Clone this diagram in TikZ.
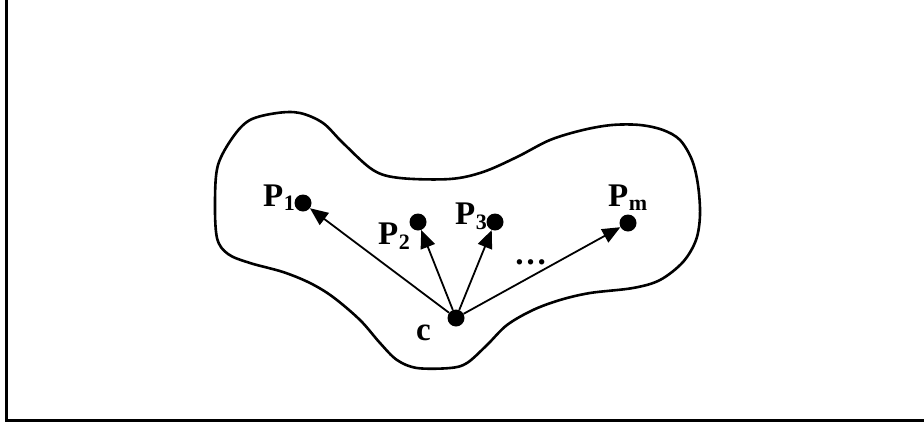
\documentclass[tikz,border=0pt]{standalone}
\usepackage{fontspec}
\setmainfont{Liberation Serif}
\usetikzlibrary{arrows.meta}
\tikzset{
  dot/.style={circle,fill=black,inner sep=0pt,minimum size=17pt},
  vec/.style={line width=1.8pt,-{Triangle[length=18pt,width=15pt]}},
  lbl/.style={inner sep=0pt,anchor=base west,font=\fontsize{33}{35}\selectfont\bfseries},
  sub/.style={inner sep=0pt,anchor=base west,font=\fontsize{22}{24}\selectfont\bfseries},
}
\begin{document}
\begin{tikzpicture}[x=1pt,y=-1pt]
\useasboundingbox (0,0) rectangle (924,426);
% open frame: left and bottom edges
\draw[line width=3pt] (6,-2) -- (6,420) -- (926,420);
% region outline
\draw[line width=2.6pt] plot[smooth cycle,tension=0.55] coordinates {
  (215,200) (218,165) (233,137) (250,120) (277,113) (300,113) (323,123)
  (343,143) (373,170) (400,178) (450,179) (483,172) (517,157) (550,140)
  (583,130) (612,125) (640,125) (663,130) (680,140) (692,160) (698,185)
  (700,215) (696,240) (683,262) (660,280) (633,288) (590,293) (560,300)
  (533,310) (507,325) (487,345) (467,363) (450,368) (417,368) (397,360)
  (380,343) (360,320) (333,297) (310,283) (283,272) (250,263) (228,254)
  (217,238)};
% points
\node[dot] (c) at (456,318) {};
\node[dot] (p1) at (303,203) {};
\node[dot] (p2) at (418,222) {};
\node[dot] (p3) at (495,222) {};
\node[dot] (pm) at (628,223) {};
% vectors from c
\draw[vec] (c) -- (p1);
\draw[vec] (c) -- (p2);
\draw[vec] (c) -- (p3);
\draw[vec] (c) -- (pm);
% labels
\node[lbl] (l1) at (263,206) {P};
\node[sub] (s1) at ([yshift=-4pt]l1.base east) {1};
\node[lbl] (l2) at (378,244) {P};
\node[sub] (s2) at ([yshift=-5pt]l2.base east) {2};
\node[lbl] (l3) at (455,224) {P};
\node[sub] (s3) at ([yshift=-5pt]l3.base east) {3};
\node[lbl] (lm) at (608,206) {P};
\node[sub] (sm) at ([yshift=-4pt]lm.base east) {m};
\node[lbl] (lc) at (416,340) {c};
\node[lbl] (dots) at (514,264) {\dots};
\end{tikzpicture}
\end{document}
